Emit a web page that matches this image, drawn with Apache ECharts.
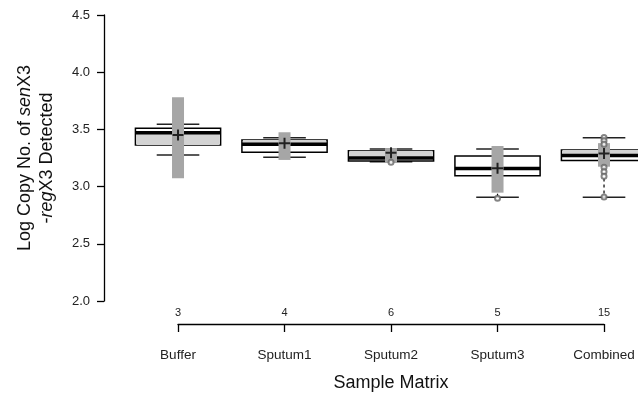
<!DOCTYPE html>
<html>
<head>
<meta charset="utf-8">
<script src="https://cdn.jsdelivr.net/npm/echarts@6/dist/echarts.min.js"></script>
<style>
  html, body { margin: 0; padding: 0; background: #fff; }
  #chart { width: 638px; height: 397px; }
</style>
</head>
<body>
<div id="chart"></div>
<script>
// sample groups and number of samples per group
const categories = ['Buffer', 'Sputum1', 'Sputum2', 'Sputum3', 'Combined'];
const counts = ['3', '4', '6', '5', '15'];

// box plot statistics (log copy no.)
const whiskerLow  = [3.276, 3.256, 3.218, 2.906, 2.906];
const q1          = [3.364, 3.300, 3.224, 3.095, 3.228];
const median      = [3.471, 3.370, 3.250, 3.158, 3.272];
const q3          = [3.510, 3.407, 3.314, 3.267, 3.320];
const whiskerHigh = [3.545, 3.427, 3.329, 3.329, 3.427];

// light grey shading inside the box
const shadeLow  = [3.364, 3.370, 3.252, null, 3.272];
const shadeHigh = [3.471, 3.407, 3.314, null, 3.320];

// mean and its interval (grey bar + cross)
const ciLow  = [3.073, 3.233, 3.206, 2.947, 3.174];
const ciHigh = [3.780, 3.475, 3.337, 3.355, 3.380];
const means  = [3.450, 3.379, 3.296, 3.160, 3.290];

// individual points drawn as open circles
const pointGroup = [2, 3, 4, 4, 4, 4, 4, 4, 4];
const pointValue = [3.213, 2.898, 3.43, 3.40, 3.37, 3.17, 3.13, 3.09, 2.91];

const font = '"Liberation Sans", Arial, sans-serif';

const boxData = categories.map(function (c, i) {
    return [i, whiskerLow[i], q1[i], median[i], q3[i], whiskerHigh[i],
        shadeLow[i], shadeHigh[i], ciLow[i], ciHigh[i], means[i]];
});

function renderBox(params, api) {
    const i = api.value(0);
    const band = api.size([1, 0])[0];
    const half = band * 0.4;
    const capHalf = band * 0.2;
    const ciHalf = 6;
    const x = api.coord([i, 0])[0];
    const y = function (dim) { return api.coord([i, api.value(dim)])[1]; };
    const yLo = y(1), yQ1 = y(2), yMed = y(3), yQ3 = y(4), yHi = y(5);
    const children = [];

    // dashed whiskers
    children.push({type: 'line', shape: {x1: x, y1: yQ1, x2: x, y2: yLo},
        style: {stroke: '#000', lineWidth: 1.2, lineDash: [3, 3]}});
    children.push({type: 'line', shape: {x1: x, y1: yQ3, x2: x, y2: yHi},
        style: {stroke: '#000', lineWidth: 1.2, lineDash: [3, 3]}});
    // caps
    children.push({type: 'line', shape: {x1: x - capHalf, y1: yLo, x2: x + capHalf, y2: yLo},
        style: {stroke: '#222', lineWidth: 1.5}});
    children.push({type: 'line', shape: {x1: x - capHalf, y1: yHi, x2: x + capHalf, y2: yHi},
        style: {stroke: '#222', lineWidth: 1.5}});
    // box
    children.push({type: 'rect', shape: {x: x - half, y: yQ3, width: half * 2, height: yQ1 - yQ3},
        style: {fill: '#fff', stroke: '#000', lineWidth: 1.5}});
    // shading
    if (api.value(6) != null && !isNaN(api.value(6))) {
        const s1 = y(6), s2 = y(7);
        children.push({type: 'rect', shape: {x: x - half + 1, y: s2, width: half * 2 - 2, height: s1 - s2},
            style: {fill: '#d3d3d3'}});
    }
    // median
    children.push({type: 'line', shape: {x1: x - half, y1: yMed, x2: x + half, y2: yMed},
        style: {stroke: '#000', lineWidth: 3.5}});
    // mean interval bar
    const c1 = y(8), c2 = y(9);
    children.push({type: 'rect', shape: {x: x - ciHalf, y: c2, width: ciHalf * 2, height: c1 - c2},
        style: {fill: '#a6a6a6'}});
    return {type: 'group', children: children};
}

const chart = echarts.init(document.getElementById('chart'));

chart.setOption({
    animation: false,
    backgroundColor: '#fff',
    textStyle: {fontFamily: font},
    grid: [
        {left: 104, right: 0, top: 15, bottom: 96},
        {left: 178, right: 34, top: 324, height: 8}
    ],
    xAxis: [
        {
            // hidden value axis placing group i at i
            gridIndex: 0, type: 'value', min: -0.695, max: 4.319, show: false
        },
        {
            gridIndex: 1, type: 'category', position: 'top', boundaryGap: false,
            data: counts,
            axisLine: {show: true, onZero: false, lineStyle: {color: '#000', width: 1.3}},
            axisTick: {show: true, inside: true, length: 8, alignWithLabel: true,
                lineStyle: {color: '#000', width: 1.3}},
            axisLabel: {fontSize: 11, color: '#222', margin: 6, interval: 0, fontFamily: font},
            splitLine: {show: false}
        },
        {
            gridIndex: 1, type: 'category', position: 'bottom', boundaryGap: false,
            data: categories,
            axisLine: {show: false, onZero: false},
            axisTick: {show: false},
            axisLabel: {fontSize: 13.5, color: '#222', margin: 16, interval: 0, fontFamily: font},
            name: 'Sample Matrix',
            nameLocation: 'middle',
            nameGap: 42,
            nameTextStyle: {fontSize: 18, color: '#111', fontFamily: font}
        }
    ],
    yAxis: [
        {
            gridIndex: 0, type: 'value', min: 2, max: 4.5, interval: 0.5,
            axisLine: {show: true, onZero: false, lineStyle: {color: '#000', width: 1.3}},
            axisTick: {show: true, length: 7, lineStyle: {color: '#000', width: 1.3}},
            axisLabel: {fontSize: 13, color: '#222', margin: 14, fontFamily: font,
                formatter: function (v) { return v.toFixed(1); }},
            splitLine: {show: false},
            name: 'Log Copy No. of {i|sen}X3\n-{i|reg}X3 Detected',
            nameLocation: 'middle',
            nameRotate: 90,
            nameGap: 46,
            nameTextStyle: {
                fontSize: 18, color: '#111', lineHeight: 22, fontFamily: font,
                rich: {i: {fontSize: 18, fontStyle: 'italic', color: '#111', fontFamily: font}}
            }
        },
        {
            gridIndex: 1, type: 'value', show: false
        }
    ],
    series: [
        {
            type: 'custom',
            xAxisIndex: 0, yAxisIndex: 0,
            clip: false,
            renderItem: renderBox,
            data: boxData,
            z: 2
        },
        {
            type: 'scatter',
            xAxisIndex: 0, yAxisIndex: 0,
            symbol: 'emptyCircle',
            symbolSize: 5,
            itemStyle: {color: '#666', borderColor: '#666', borderWidth: 1},
            data: pointGroup.map(function (g, i) { return [g, pointValue[i]]; }),
            z: 3
        },
        {
            type: 'scatter',
            xAxisIndex: 0, yAxisIndex: 0,
            symbol: 'path://M0,5 L10,5 M5,0 L5,10',
            symbolSize: 11,
            itemStyle: {color: 'none', borderColor: '#000', borderWidth: 2},
            data: categories.map(function (c, i) { return [i, means[i]]; }),
            z: 4
        }
    ]
});
</script>
</body>
</html>
